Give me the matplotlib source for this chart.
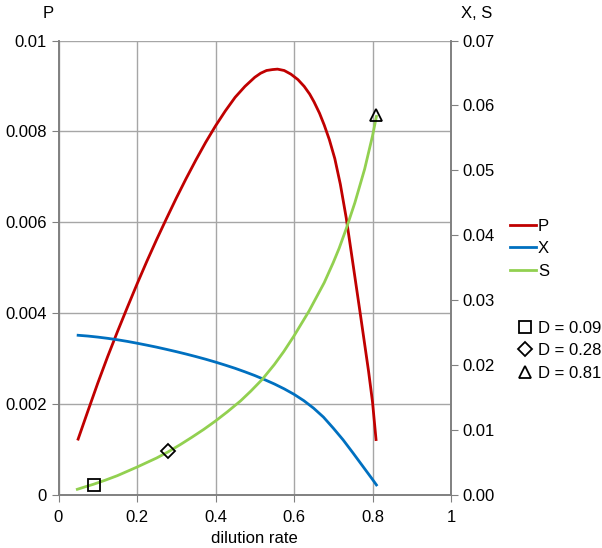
import matplotlib
matplotlib.use('Agg')
import matplotlib.pyplot as plt
from matplotlib.lines import Line2D

plt.rcParams['font.family'] = ['Liberation Sans', 'DejaVu Sans']

# dilution rate and P (left axis)
d_p = [0.05, 0.075, 0.10, 0.125, 0.15, 0.175, 0.20, 0.225, 0.25, 0.275, 0.30,
       0.325, 0.35, 0.375, 0.40, 0.425, 0.45, 0.475, 0.50, 0.515, 0.53, 0.545,
       0.558, 0.575, 0.592, 0.61, 0.626, 0.64, 0.651, 0.665, 0.677, 0.69,
       0.704, 0.718, 0.733, 0.75, 0.77, 0.79, 0.80, 0.809]
p = [0.00123, 0.00185, 0.00246, 0.00304, 0.00359, 0.00412, 0.00464, 0.00514,
     0.00562, 0.00608, 0.00653, 0.00696, 0.00737, 0.00776, 0.00812, 0.00845,
     0.00875, 0.00899, 0.00919, 0.00928, 0.00934, 0.00936, 0.00937, 0.00934,
     0.00926, 0.00914, 0.00899, 0.00882, 0.00865, 0.00840, 0.00814, 0.00782,
     0.00740, 0.00684, 0.00610, 0.00510, 0.00392, 0.00272, 0.00205, 0.00122]

# X (right axis)
d_x = [0.05, 0.075, 0.10, 0.125, 0.15, 0.175, 0.20, 0.225, 0.25, 0.275, 0.30,
       0.325, 0.35, 0.375, 0.40, 0.425, 0.45, 0.475, 0.50, 0.525, 0.55, 0.575,
       0.60, 0.625, 0.65, 0.675, 0.70, 0.725, 0.75, 0.775, 0.80, 0.81]
x_vals = [0.02460, 0.02448, 0.02432, 0.02413, 0.02391, 0.02366, 0.02338,
          0.02308, 0.02277, 0.02243, 0.02208, 0.02171, 0.02132, 0.02091,
          0.02047, 0.02000, 0.01951, 0.01897, 0.01840, 0.01777, 0.01710,
          0.01635, 0.01551, 0.01453, 0.01337, 0.01200, 0.01030, 0.00850,
          0.00650, 0.00445, 0.00240, 0.00155]

# S (right axis)
d_s = [0.048, 0.07, 0.089, 0.12, 0.15, 0.20, 0.25, 0.278, 0.31, 0.34, 0.37,
       0.40, 0.43, 0.464, 0.49, 0.519, 0.55, 0.574, 0.60, 0.638, 0.677, 0.70,
       0.715, 0.733, 0.755, 0.78, 0.80, 0.81]
s_vals = [0.00088, 0.0013, 0.00165, 0.0023, 0.00298, 0.0043, 0.0057, 0.0066,
          0.00775, 0.0089, 0.0101, 0.0114, 0.0128, 0.0145, 0.0160, 0.0178,
          0.0201, 0.0221, 0.0245, 0.0283, 0.0327, 0.0358, 0.0380, 0.0410,
          0.0450, 0.0502, 0.0553, 0.0583]

# highlighted operating points on S
pt_d = [0.09, 0.28, 0.81]
pt_s = [0.0016, 0.0067, 0.0586]
pt_marker = ['s', 'D', '^']
pt_label = ['D = 0.09', 'D = 0.28', 'D = 0.81']

red = '#C00000'
blue = '#0070C0'
green = '#92D050'
grid_c = '#A6A6A6'
spine_c = '#808080'

fig = plt.figure(figsize=(6.02, 5.48), dpi=100)
ax = fig.add_axes([58.5 / 602, 1 - 495 / 548, (451 - 58.5) / 602, (495 - 40.5) / 548])
ax2 = ax.twinx()

ax.plot(d_p, p, color=red, lw=2, solid_joinstyle='round')
ax2.plot(d_x, x_vals, color=blue, lw=2, solid_joinstyle='round')
ax2.plot(d_s, s_vals, color=green, lw=2, solid_joinstyle='round')
for dd, ss, mk in zip(pt_d, pt_s, pt_marker):
    ax2.plot(dd, ss, marker=mk, ms=9 if mk != 'D' else 7.5, mfc='none',
             mec='black', mew=1.3, ls='none')

ax.set_xlim(0, 1)
ax.set_ylim(0, 0.01)
ax2.set_ylim(0, 0.07)
ax.set_xticks([0, 0.2, 0.4, 0.6, 0.8, 1])
ax.set_xticklabels(['0', '0.2', '0.4', '0.6', '0.8', '1'])
ax.set_yticks([0, 0.002, 0.004, 0.006, 0.008, 0.01])
ax.set_yticklabels(['0', '0.002', '0.004', '0.006', '0.008', '0.01'])
ax2.set_yticks([0, 0.01, 0.02, 0.03, 0.04, 0.05, 0.06, 0.07])
ax2.set_yticklabels(['0.00', '0.01', '0.02', '0.03', '0.04', '0.05', '0.06', '0.07'])

ax.grid(True, color=grid_c, lw=1)
ax.set_axisbelow(True)
for a in (ax, ax2):
    a.spines['top'].set_visible(False)
    for side in ('left', 'bottom', 'right'):
        a.spines[side].set_color(spine_c)
        a.spines[side].set_linewidth(1.2)
    a.tick_params(colors=spine_c, labelcolor='black', labelsize=12, length=5)
ax.tick_params(axis='x', pad=6)

ax.set_xlabel('dilution rate', fontsize=12, labelpad=4)
fig.text(48 / 602, 1 - 14 / 548, 'P', fontsize=12, ha='center', va='center')
fig.text(477 / 602, 1 - 14 / 548, 'X, S', fontsize=12, ha='center', va='center')

line_handles = [Line2D([], [], color=red, lw=2),
                Line2D([], [], color=blue, lw=2),
                Line2D([], [], color=green, lw=2)]
leg1 = fig.legend(line_handles, ['P', 'X', 'S'], loc='upper left',
                  bbox_to_anchor=(503 / 602, 1 - 212 / 548), frameon=False,
                  fontsize=12, handlelength=1.6, handletextpad=0.1,
                  labelspacing=0.45, borderaxespad=0)

mk_handles = [Line2D([], [], marker=mk, ms=9 if mk != 'D' else 7.5, mfc='none',
                     mec='black', mew=1.3, ls='none') for mk in pt_marker]
leg2 = fig.legend(mk_handles, pt_label, loc='upper left',
                  bbox_to_anchor=(510 / 602, 1 - 314 / 548), frameon=False,
                  fontsize=12, handlelength=1.0, handletextpad=0.3,
                  labelspacing=0.45, borderaxespad=0)

fig.savefig('out.png', dpi=100)
